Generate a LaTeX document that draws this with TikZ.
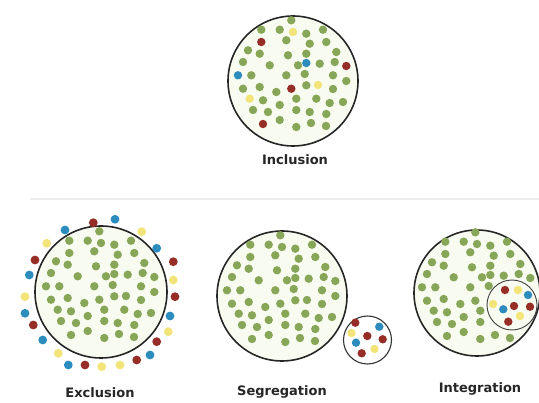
\documentclass[tikz,border=0pt]{standalone}
\usepackage{fontspec}
\setmainfont{DejaVu Sans}
\usepackage{xcolor}
\definecolor{dotgreen}{RGB}{136,166,88}
\definecolor{dotred}{RGB}{150,45,38}
\definecolor{dotblue}{RGB}{45,140,190}
\definecolor{dotyellow}{RGB}{242,228,120}
\definecolor{fieldbg}{RGB}{248,251,240}
% green field, positions relative to circle centre (g = green, r/b/y = coloured in Inclusion)
\newcommand{\fieldpts}{-1.7/-60.7/g, -31.7/-51.3/g, -13.3/-51.3/g, 13.3/-47.3/g, 30/-51.3/g,
  -6.7/-40.7/g, 16.7/-37.3/g, 33.3/-39/g, -45/-30.7/g, -33.3/-27.3/g, -5/-25.7/g,
  13.3/-27.3/g, 43.3/-29/g, -50/-19/g, -23.3/-15.7/g, 5/-15.7/g, 26.7/-17.3/g, 41.7/-19/g,
  -41.7/-5.7/g, -6.7/-5.7/g, 11.7/-7/g, 40/-5.7/g, 53.3/0/g, -50/7.7/g, -33.3/6/g,
  -16.7/11/g, 13.3/4.3/g, 40/8/g, -30/19.3/g, -13.3/24/g, 3.3/17.7/g, 23.3/17.7/g,
  36.7/22/g, 50/21/g, -40/29/g, -25/31/g, 3.3/29/g, 16.7/31/g, 33.3/33/g, -13.3/39/g,
  3.3/46/g, 18/42/g, 33/45/g,
  -31.7/-39/r, 53.3/-15/r, -1.7/7.7/r, -30/43/r, 13.3/-18/b, -55/-5.7/b,
  0/-49/y, 25/4/y, -43.3/17.7/y}
\begin{document}
\begin{tikzpicture}[x=1pt, y=-1pt,
  ring/.style={draw=black!85, line width=1.6pt, fill=fieldbg},
  subring/.style={draw=black!80, line width=1.1pt, fill=white},
  dot-g/.style={fill=dotgreen}, dot-r/.style={fill=dotred},
  dot-b/.style={fill=dotblue}, dot-y/.style={fill=dotyellow},
  lbl/.style={font=\bfseries\fontsize{13}{15}\selectfont, text=black!85, inner sep=0pt},
  sep/.style={draw=black!7, line width=1.5pt}]
\useasboundingbox (0,0) rectangle (539,403);
\coordinate (inc-c) at (293,81);
\coordinate (exc-c) at (101,292);
\coordinate (seg-c) at (282,296);
\coordinate (seg-s) at (367.5,340);
\coordinate (int-c) at (477,293);
\coordinate (int-s) at (512,305);
\coordinate (sep-l) at (30,199);
\coordinate (sep-r) at (539,199);
\draw[sep] (sep-l) -- (sep-r);

% Inclusion
\draw[ring] (inc-c) circle (65);
\begin{scope}[shift={(inc-c)}]
  \foreach \x/\y/\c in \fieldpts {\fill[dot-\c] (\x,\y) circle (4.2);}
\end{scope}
\node[lbl] (inc) at (295,160) {Inclusion};

% Exclusion
\draw[ring] (exc-c) circle (66);
\begin{scope}[shift={(exc-c)}]
  \foreach \x/\y/\c in \fieldpts {\fill[dot-g] (\x,\y) circle (4.2);}
\end{scope}
\foreach \x/\y/\c in {93.3/222.7/r, 115/219.3/b, 65/230/b, 141.7/231.7/y, 46.7/243.3/y,
  156.7/248.3/b, 35/260/r, 173.3/261.7/r, 29.3/275/b, 173.3/280/y, 25/296.7/y,
  175/296.7/r, 25/313.3/b, 170/316/b, 33.3/325/r, 168.3/331.7/y, 42.7/340/b,
  156.7/341.7/r, 58.3/353.3/y, 150/355/b, 68.3/365/b, 85/365/r, 101.7/366.7/y,
  120/365/y, 136.7/360/r}
  {\fill[dot-\c] (\x,\y) circle (4.4);}
\node[lbl] (exc) at (100,393) {Exclusion};

% Segregation
\draw[ring] (seg-c) circle (65);
\begin{scope}[shift={(seg-c)}]
  \foreach \x/\y/\c in \fieldpts {\fill[dot-g] (\x,\y) circle (4.2);}
\end{scope}
\draw[subring] (seg-s) circle (24);
\begin{scope}[shift={(seg-s)}]
  \foreach \x/\y/\c in {-12.2/-17.3/r, 11.8/-13.3/b, -0.2/-4/r, 15.2/-0.7/r,
    -11.5/2.7/b, -5.8/13.3/r, -16/-7/y, 7/9/y}
    {\fill[dot-\c] (\x,\y) circle (4.2);}
\end{scope}
\node[lbl] (seg) at (282,392) {Segregation};

% Integration
\draw[ring] (int-c) circle (63);
\begin{scope}[shift={(int-c)}]
  \foreach \x/\y/\c in \fieldpts {
    \pgfmathtruncatemacro\keep{veclen(\x-35,\y-12)>29}
    \ifnum\keep=1 \fill[dot-g] (\x,\y) circle (4.2); \fi}
\end{scope}
\draw[draw=black!75, line width=0.9pt] (int-s) circle (25);
\begin{scope}[shift={(int-s)}]
  \foreach \x/\y/\c in {-7/-15/r, 16/-10/b, 2/1/r, 18/1.7/r, -8.7/4.3/b,
    -3.7/16.7/r, 6/-15/y, -19/-1/y, 8/11/y}
    {\fill[dot-\c] (\x,\y) circle (4.2);}
\end{scope}
\node[lbl] (int) at (480,389) {Integration};
\end{tikzpicture}
\end{document}
